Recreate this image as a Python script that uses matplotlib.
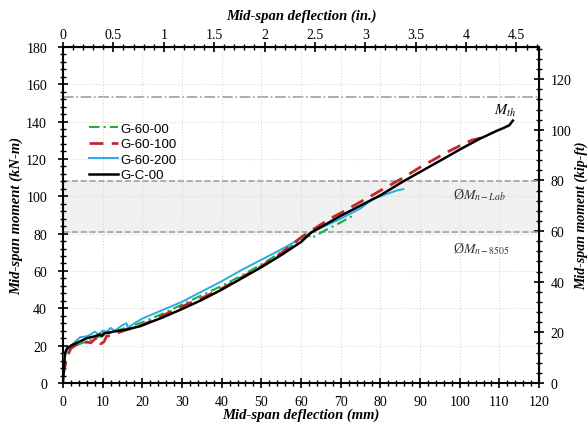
import matplotlib
matplotlib.use("Agg")
import matplotlib.pyplot as plt
from matplotlib.ticker import MultipleLocator, AutoMinorLocator, FuncFormatter

plt.rcParams["font.family"] = ["Liberation Serif", "DejaVu Serif"]
plt.rcParams["mathtext.fontset"] = "stix"

# G-C-00
gc_x = [0, 0.3, 0.5, 1, 2, 3, 4.5, 6, 8, 9.3, 9.8, 10.2, 12.7, 16, 19.4, 25, 30, 35, 40,
        45, 50, 55, 60, 62.5, 70, 80, 85.4, 90, 96.7, 100, 105, 109.3, 111, 112.5, 113.4]
gc_y = [0, 10, 16, 18.5, 20, 21, 22.5, 24, 25, 26, 25, 26.5, 27.5, 28.6, 30.4, 35, 39.6, 44.5, 50,
        56, 62, 68.5, 75.5, 80.5, 89.5, 100.5, 107.5, 113, 121, 125, 130.7, 135, 136.5, 138, 140.5]

# G-60-100
g100_x = [0, 0.5, 1, 2, 3, 4, 5, 6, 7, 8, 9, 9.5, 10.3, 11, 12, 14, 16, 20, 25, 30, 35, 40,
          45, 50, 55, 60, 67.3, 70, 80, 85.4, 90, 96.7, 100, 103, 105.8]
g100_y = [4, 9, 14, 18.5, 20, 21, 20.5, 22, 21.5, 23.5, 24.5, 21, 22, 25, 25.5, 27, 28.5, 31, 36, 41, 45.5, 50.5,
          56.5, 62.5, 69.5, 78, 88, 91, 103, 109.5, 115.5, 123.5, 127, 130, 131.5]

# G-60-200
g200_x = [0, 0.5, 1.7, 3, 4.3, 6, 7, 8, 9, 10, 11, 12, 13, 14, 15, 16, 16.3, 18, 20, 25, 30,
          35, 40, 45, 50, 55, 60, 62.5, 65, 70, 75, 78, 82, 84, 85.8]
g200_y = [13.7, 16, 19.1, 22, 24.5, 25, 26, 27.5, 26, 28, 27.5, 29.5, 28, 29.5, 31, 32, 29.5, 32, 34.5, 39, 43.5,
          49, 54.5, 60.5, 66, 71.5, 77.5, 80.5, 83, 88, 93.5, 98.5, 101.5, 103, 103.8]

# G-60-00
g00_x = [0, 1, 3, 5, 8, 10, 15, 20, 25, 30, 35, 40, 45, 50, 55, 60, 62, 62.6, 65, 70, 73]
g00_y = [12, 17, 20, 21.5, 24, 25.5, 29, 32.5, 37, 42, 47, 52, 57.5, 63.5, 70, 76.5, 79, 77.5, 80.5, 86, 89.5]

# reference levels (kN-m)
m_th = 153
phi_mn_lab = 108
phi_mn_8505 = 81

fig = plt.figure(figsize=(5.87, 4.31), dpi=100)
ax = fig.add_axes([0.1073, 0.109, 0.811, 0.78])

ax.axhspan(phi_mn_8505, phi_mn_lab, color="#f0f0f0", zorder=0)
ax.axhline(phi_mn_lab, color="#a0a0a0", ls="--", lw=1.2, zorder=1)
ax.axhline(phi_mn_8505, color="#a0a0a0", ls="--", lw=1.2, zorder=1)
ax.axhline(m_th, color="#a0a0a0", ls="-.", lw=1.2, zorder=1)

ax.plot(g00_x, g00_y, color="#22aa44", ls=(0, (5, 2, 1, 2)), lw=1.5, label="G-60-00", zorder=3)
ax.plot(g100_x, g100_y, color="#c1272d", ls=(0, (5, 3)), lw=2, label="G-60-100", zorder=4)
ax.plot(g200_x, g200_y, color="#29abe2", lw=1.4, label="G-60-200", zorder=3)
ax.plot(gc_x, gc_y, color="black", lw=1.8, label="G-C-00", zorder=5)

ax.text(111.5, 146, "$M_{th}$", fontsize=10.5, ha="center", va="center")
ax.text(105, 101, "Ø$M_{n-Lab}$", fontsize=10, ha="center", va="center", color="#333333")
ax.text(105.5, 72, "Ø$M_{n-8505}$", fontsize=10, ha="center", va="center", color="#333333")

ax.set_xlim(0, 120)
ax.set_ylim(0, 180)
ax.xaxis.set_major_locator(MultipleLocator(10))
ax.xaxis.set_minor_locator(AutoMinorLocator(5))
ax.yaxis.set_major_locator(MultipleLocator(20))
ax.yaxis.set_minor_locator(AutoMinorLocator(5))
ax.grid(which="major", color="#d8d8d8", ls=":", lw=0.8)
ax.tick_params(which="major", direction="inout", length=7, width=1.2, labelsize=10, pad=5)
ax.tick_params(axis="y", which="major", pad=8)
ax.tick_params(which="minor", direction="inout", length=4, width=1)
for s in ax.spines.values():
    s.set_linewidth(1.5)

ax.set_xlabel("Mid-span deflection (mm)", fontsize=10.5, fontweight="bold", style="italic", labelpad=0)
ax.set_ylabel("Mid-span moment (kN-m)", fontsize=10.5, fontweight="bold", style="italic", labelpad=2)

top = ax.secondary_xaxis("top", functions=(lambda x: x / 25.4, lambda x: x * 25.4))
top.xaxis.set_major_locator(MultipleLocator(0.5))
top.xaxis.set_minor_locator(AutoMinorLocator(5))
top.xaxis.set_major_formatter(FuncFormatter(lambda v, p: "%g" % round(v, 2)))
top.tick_params(which="major", direction="inout", length=7, width=1.2, labelsize=10, pad=1)
top.tick_params(which="minor", direction="inout", length=4, width=1)
top.set_xlabel("Mid-span deflection (in.)", fontsize=10.5, fontweight="bold", style="italic", labelpad=6)

right = ax.secondary_yaxis("right", functions=(lambda y: y / 1.3558, lambda y: y * 1.3558))
right.yaxis.set_major_locator(MultipleLocator(20))
right.yaxis.set_minor_locator(AutoMinorLocator(5))
right.tick_params(which="major", direction="inout", length=7, width=1.2, labelsize=10, pad=5)
right.tick_params(which="minor", direction="inout", length=4, width=1)
right.set_ylabel("Mid-span moment (kip-ft)", fontsize=10, fontweight="bold", style="italic", labelpad=2)

ax.legend(loc="upper left", bbox_to_anchor=(0.03, 0.81), frameon=False, handlelength=2.2,
          handletextpad=0.2, labelspacing=0.25, prop={"family": "Liberation Sans", "size": 9.5})

fig.savefig("out.png", dpi=100)
